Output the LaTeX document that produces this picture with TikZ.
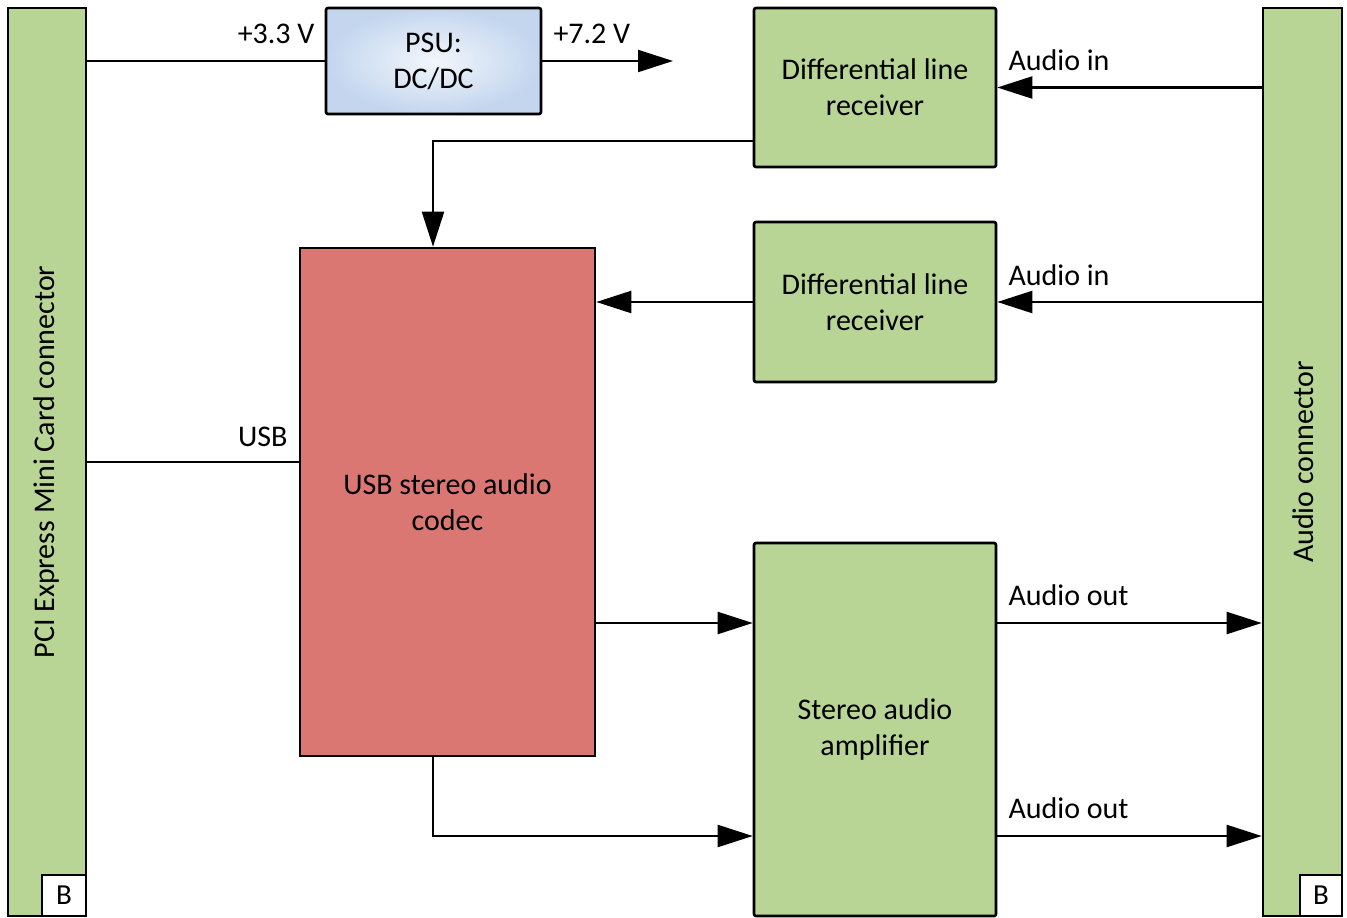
\documentclass[tikz,border=0pt]{standalone}
\usepackage{fontspec}
\setmainfont{Carlito}
\usetikzlibrary{arrows.meta,positioning}
\definecolor{grn}{HTML}{B8D595}
\definecolor{red1}{HTML}{DB7772}
\definecolor{bluee}{HTML}{C3D6EE}
\definecolor{bluec}{HTML}{F2F6FC}
\tikzset{
  x=1pt,y=-1pt,
  blk/.style={draw=black,line width=2.6pt,rounded corners=2pt,fill=grn,align=center,font=\fontsize{30}{36}\selectfont,inner sep=0pt},
  bar/.style={draw=black,line width=2.6pt,fill=grn,inner sep=0pt},
  bbox/.style={draw=black,line width=2.6pt,fill=white,inner sep=0pt,font=\fontsize{29}{32}\selectfont},
  conn/.style={line width=2.2pt},
  arr/.style={line width=2.2pt,-{Triangle[length=35pt,width=22pt]}},
  lbl/.style={font=\fontsize{30}{36}\selectfont,inner sep=0pt},
}
\begin{document}
\begin{tikzpicture}
\useasboundingbox (0,0) rectangle (1347,918);
% bars
\node[bar,minimum width=78pt,minimum height=908pt] (pci) at (47,462) {};
\node[rotate=90,lbl] (pcit) at (47,462) {PCI Express Mini Card connector};
\node[bbox,minimum width=44pt,minimum height=41pt] (bl) at (64,895.5) {B};
\node[bar,minimum width=79pt,minimum height=908pt] (aud) at (1302.5,462) {};
\node[rotate=90,lbl] (audt) at (1303,462) {Audio connector};
\node[bbox,minimum width=42pt,minimum height=41pt] (br) at (1321,895.5) {B};
% PSU
\node[draw=black,line width=2.6pt,rounded corners=2pt,inner color=bluec,outer color=bluee,minimum width=215pt,minimum height=106pt,align=center,font=\fontsize{30}{36}\selectfont,inner sep=0pt] (psu) at (433.5,61) {PSU:\\DC/DC};
% blocks
\node[blk,minimum width=242pt,minimum height=159pt] (dlr1) at (875,87.5) {Differential line\\receiver};
\node[blk,minimum width=242pt,minimum height=160pt] (dlr2) at (875,302) {Differential line\\receiver};
\node[blk,fill=red1,rounded corners=0pt,minimum width=295pt,minimum height=508pt] (codec) at (447.5,502) {USB stereo audio\\codec};
\node[blk,minimum width=242pt,minimum height=373pt] (amp) at (875,729.5) {Stereo audio\\amplifier};
% coordinates
\coordinate (out72) at (673,61);
% connectors
\draw[conn] (pci.east |- psu.west) -- (psu.west);
\node[lbl,anchor=base east] (l33) at ([xshift=-10pt,yshift=18pt]psu.west) {+3.3 V};
\draw[arr] (psu.east) -- (out72);
\node[lbl,anchor=base west] (l72) at ([xshift=11pt,yshift=18pt]psu.east) {+7.2 V};
\draw[arr] (aud.west |- dlr1.east) -- (dlr1.east);
\node[lbl,anchor=base west] (ai1) at ([xshift=11pt,yshift=17pt]dlr1.east) {Audio in};
\draw[arr] (aud.west |- dlr2.east) -- (dlr2.east);
\node[lbl,anchor=base west] (ai2) at ([xshift=11pt,yshift=17pt]dlr2.east) {Audio in};
\draw[arr] ([yshift=-53.5pt]dlr1.west) -| ([xshift=-14.5pt]codec.north);
\draw[arr] (dlr2.west) -- (codec.east |- dlr2.west);
\coordinate (usbc) at (codec.west |- 0,462);
\draw[conn] (pci.east |- usbc) -- (usbc);
\node[lbl,anchor=base east] (usb) at ([xshift=-11pt,yshift=16pt]usbc) {USB};
\draw[arr] (codec.east |- 0,623) -- (amp.west |- 0,623);
\draw[arr] ([xshift=-14.5pt]codec.south) |- (amp.west |- 0,836);
\coordinate (ao1c) at (amp.east |- 0,623);
\coordinate (ao2c) at (amp.east |- 0,836);
\draw[arr] (ao1c) -- (aud.west |- ao1c);
\node[lbl,anchor=base west] (ao1) at ([xshift=11pt,yshift=18pt]ao1c) {Audio out};
\draw[arr] (ao2c) -- (aud.west |- ao2c);
\node[lbl,anchor=base west] (ao2) at ([xshift=11pt,yshift=18pt]ao2c) {Audio out};
\end{tikzpicture}
\end{document}
